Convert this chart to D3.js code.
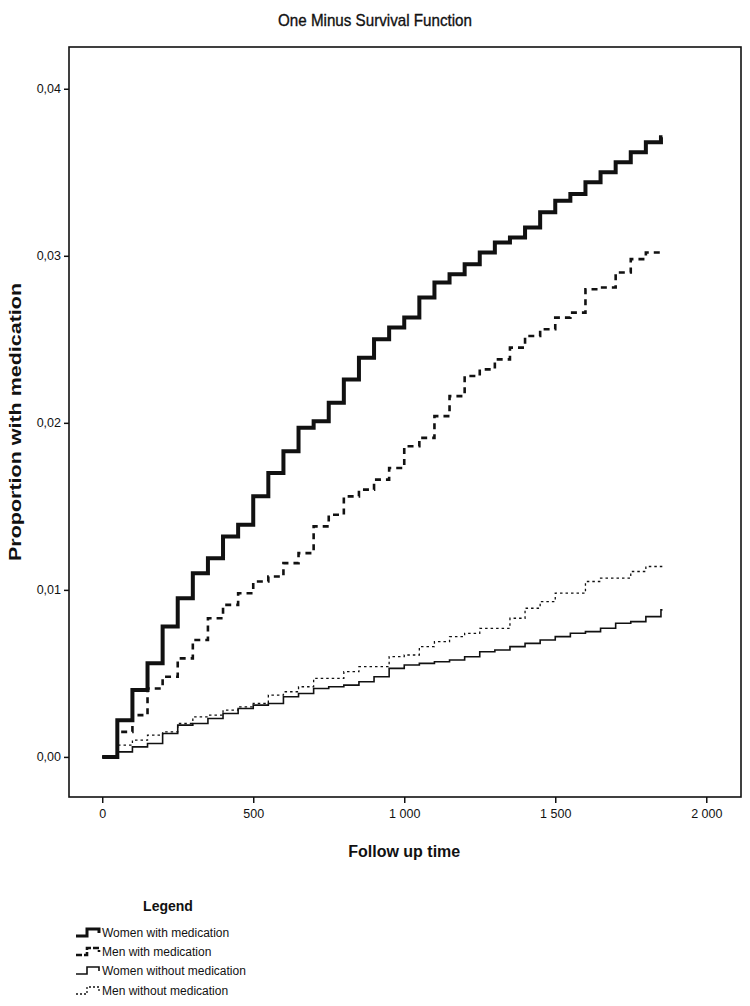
<!DOCTYPE html>
<html>
<head>
<meta charset="utf-8">
<script src="https://cdn.jsdelivr.net/npm/d3@7/dist/d3.min.js"></script>
<style>
  body { margin: 0; background: #fff; }
  svg { display: block; font-family: "Liberation Sans", Arial, sans-serif; }
</style>
</head>
<body>
<svg id="chart" width="750" height="1006"></svg>
<script>
// ---- Data ----
const times = [0,50,100,150,200,250,300,350,400,450,500,550,600,650,700,750,800,850,900,950,
               1000,1050,1100,1150,1200,1250,1300,1350,1400,1450,1500,1550,1600,1650,1700,1750,1800,1850];
const endTime = 1855;

const womenWithMed = [0,0.0022,0.0040,0.0056,0.0078,0.0095,0.0110,0.0119,0.0132,0.0139,
  0.0156,0.0170,0.0183,0.0197,0.0201,0.0212,0.0226,0.0239,0.0250,0.0257,
  0.0263,0.0275,0.0284,0.0289,0.0295,0.0302,0.0308,0.0311,0.0317,0.0326,
  0.0333,0.0337,0.0344,0.0350,0.0356,0.0362,0.0368,0.0371];

const menWithMed = [0,0.0015,0.0025,0.0041,0.0048,0.0059,0.0070,0.0083,0.0091,0.0098,
  0.0105,0.0108,0.0116,0.0122,0.0138,0.0145,0.0156,0.0160,0.0166,0.0173,
  0.0186,0.0191,0.0204,0.0216,0.0228,0.0232,0.0238,0.0245,0.0252,0.0256,
  0.0263,0.0266,0.0280,0.0281,0.0290,0.0298,0.0302,0.0302];

const womenWithoutMed = [0,0.0003,0.0006,0.0008,0.0014,0.0019,0.0020,0.0023,0.0026,0.0029,
  0.0031,0.0032,0.0036,0.0038,0.0041,0.0042,0.0043,0.0045,0.0048,0.0053,
  0.0055,0.0056,0.0057,0.0058,0.0060,0.0063,0.0064,0.0066,0.0068,0.0070,
  0.0072,0.0074,0.0075,0.0077,0.0080,0.0081,0.0084,0.0088];

const menWithoutMed = [0,0.0007,0.0010,0.0013,0.0015,0.0020,0.0024,0.0025,0.0028,0.0030,
  0.0032,0.0037,0.0039,0.0042,0.0047,0.0047,0.0051,0.0054,0.0054,0.0060,
  0.0061,0.0066,0.0069,0.0072,0.0074,0.0077,0.0077,0.0083,0.0089,0.0093,
  0.0098,0.0098,0.0105,0.0107,0.0107,0.0111,0.0114,0.0114];

const seriesNames = ["Women with medication","Men with medication","Women without medication","Men without medication"];
const xTicks = [0,500,1000,1500,2000];
const yTicks = [0,0.01,0.02,0.03,0.04];

// ---- Styles ----
const styles = [
  {width: 4,   dash: null},
  {width: 2.6, dash: "6,5"},
  {width: 1.6, dash: null},
  {width: 1.3, dash: "2.5,3"}
];

const svg = d3.select("#chart");
const L = 69, R = 741, T = 47, B = 797;

const x = d3.scaleLinear().domain([-110, 2115]).range([L, R]);
const y = d3.scaleLinear().domain([-0.0024, 0.0425]).range([B, T]);

// Title
svg.append("text")
  .attr("x", 375).attr("y", 26)
  .attr("text-anchor", "middle")
  .attr("font-size", 17)
  .attr("stroke", "#111").attr("stroke-width", 0.35)
  .attr("textLength", 194).attr("lengthAdjust", "spacingAndGlyphs")
  .attr("fill", "#111")
  .text("One Minus Survival Function");

// Frame
svg.append("rect")
  .attr("x", L).attr("y", T).attr("width", R - L).attr("height", B - T)
  .attr("fill", "none").attr("stroke", "#111").attr("stroke-width", 1.6);

// Axes
const fmtY = d => d3.format(".2f")(d).replace(".", ",");
const fmtX = d => d3.format(",")(d).replace(",", " ");

const yAxis = svg.append("g").attr("transform", `translate(${L},0)`)
  .call(d3.axisLeft(y).tickValues(yTicks).tickFormat(fmtY).tickSize(5).tickPadding(3));
const xAxis = svg.append("g").attr("transform", `translate(0,${B})`)
  .call(d3.axisBottom(x).tickValues(xTicks).tickFormat(fmtX).tickSize(6).tickPadding(6));
[yAxis, xAxis].forEach(g => {
  g.select(".domain").remove();
  g.selectAll(".tick line").attr("stroke", "#111").attr("stroke-width", 1.5);
  g.selectAll(".tick text").attr("font-size", 12.5).attr("fill", "#111")
    .attr("font-family", "Liberation Sans, Arial, sans-serif");
});

// Axis titles
svg.append("text")
  .attr("x", x(1000)).attr("y", 857)
  .attr("text-anchor", "middle")
  .attr("font-size", 16).attr("font-weight", "bold").attr("fill", "#111")
  .text("Follow up time");

svg.append("text")
  .attr("transform", `translate(21,${(T + B) / 2}) rotate(-90)`)
  .attr("text-anchor", "middle")
  .attr("font-size", 16).attr("font-weight", "bold").attr("fill", "#111")
  .attr("textLength", 278).attr("lengthAdjust", "spacingAndGlyphs")
  .text("Proportion with medication");

// Curves
const allSeries = [womenWithMed, menWithMed, womenWithoutMed, menWithoutMed];
const line = d3.line().x(d => x(d[0])).y(d => y(d[1])).curve(d3.curveStepAfter);

allSeries.forEach((vals, i) => {
  const pts = times.map((t, j) => [t, vals[j]]);
  pts.push([endTime, vals[vals.length - 1]]);
  svg.append("path")
    .datum(pts)
    .attr("d", line)
    .attr("fill", "none")
    .attr("stroke", "#111")
    .attr("stroke-width", styles[i].width)
    .attr("stroke-dasharray", styles[i].dash)
    .attr("stroke-linejoin", "miter")
    .attr("stroke-linecap", "butt");
});

// Legend
svg.append("text")
  .attr("x", 168).attr("y", 911)
  .attr("text-anchor", "middle")
  .attr("font-size", 14).attr("font-weight", "bold").attr("fill", "#111")
  .text("Legend");

const legendY = [933, 952, 971, 991];
seriesNames.forEach((name, i) => {
  const yy = legendY[i];
  const sym = d3.path();
  sym.moveTo(76, yy + 3); sym.lineTo(87, yy + 3); sym.lineTo(87, yy - 4);
  sym.lineTo(99, yy - 4); sym.lineTo(99, yy);
  svg.append("path")
    .attr("d", sym.toString())
    .attr("fill", "none").attr("stroke", "#111")
    .attr("stroke-width", Math.min(styles[i].width, 3))
    .attr("stroke-dasharray", styles[i].dash ? (i === 1 ? "6,2" : "2,2") : null);
  svg.append("text")
    .attr("x", 102).attr("y", yy + 4)
    .attr("font-size", 12).attr("fill", "#111")
    .text(name);
});
</script>
</body>
</html>
